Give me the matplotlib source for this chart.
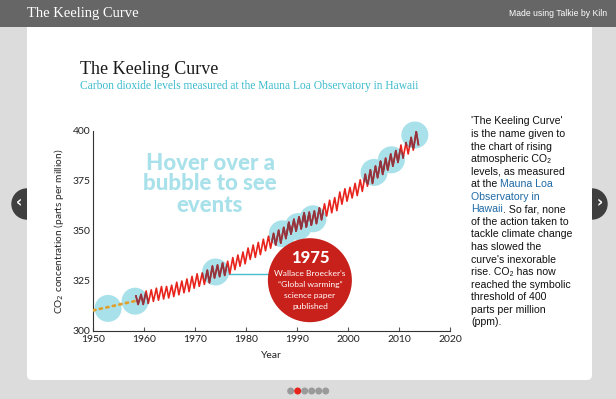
import matplotlib.pyplot as plt
from matplotlib.patches import Circle, Rectangle, FancyBboxPatch
from matplotlib.transforms import IdentityTransform, ScaledTranslation

# Mauna Loa CO2, yearly May peak and Sep/Oct trough (ppm)
years = list(range(1958, 2014))
may_peak = [317.5, 318.3, 320.0, 320.6, 321.4, 322.2, 322.3, 322.9, 324.4, 325.0,
            326.0, 327.3, 328.6, 329.0, 330.4, 332.5, 333.0, 334.0, 334.9, 336.7,
            338.0, 339.5, 341.5, 343.0, 344.3, 345.9, 347.4, 348.8, 350.4, 351.8,
            354.4, 355.9, 357.1, 359.1, 359.4, 360.0, 361.6, 363.6, 365.4, 366.7,
            369.5, 371.1, 371.8, 373.8, 375.6, 378.4, 380.6, 382.5, 384.9, 386.4,
            388.5, 390.2, 393.0, 394.2, 396.8, 399.8]
oct_trough = [313.3, 313.3, 313.8, 314.8, 315.4, 316.0, 316.5, 317.2, 318.1, 319.1,
              319.7, 321.4, 322.3, 323.3, 324.1, 326.5, 327.2, 327.8, 328.6, 330.7,
              332.4, 333.6, 335.8, 336.8, 338.2, 340.1, 341.4, 342.9, 343.9, 346.2,
              348.5, 349.9, 351.0, 352.0, 352.9, 353.7, 355.6, 357.5, 359.1, 360.2,
              363.4, 364.9, 366.5, 367.7, 369.8, 372.4, 373.8, 376.6, 378.3, 380.5,
              382.4, 384.3, 386.5, 388.5, 390.4, 393.2]

# estimate before the measurements
pre_years = [1950, 1958.2]
pre_ppm = [310.3, 315.0]

# event bubbles
bubble_year = [1952.9, 1958.2, 1974.0, 1987.1, 1990.2, 1993.1, 2005.1, 2008.5, 2013.1]
bubble_ppm = [311.3, 314.9, 329.5, 348.6, 352.2, 356.1, 379.3, 385.6, 398.0]

event_title = "1975"
event_lines = ["Wallace Broecker's", "\u201cGlobal warming\u201d", "science paper", "published"]
event_pos = (1992.5, 325.4)
event_bubble = 2

side_lines = ["'The Keeling Curve'", "is the name given to", "the chart of rising",
              "atmospheric CO\u2082", "levels, as measured", None, None, None,
              "of the action taken to", "tackle climate change", "has slowed the",
              "curve's inexorable", "rise. CO\u2082 has now", "reached the symbolic",
              "threshold of 400", "parts per million", "(ppm)."]

RED = '#e8231c'
DARKRED = '#8f3540'
BUBBLE = '#a8e1ea'
LINK = '#1f6aa5'
SANS = ['Liberation Sans', 'DejaVu Sans']
ROUND = ['Lato', 'DejaVu Sans']

fig = plt.figure(figsize=(6.16, 3.99), dpi=100)
fig.patch.set_facecolor('#dcdcdc')

# page furniture in pixel coordinates
bg = fig.add_axes([0, 0, 1, 1], zorder=0)
bg.set_xlim(0, 616)
bg.set_ylim(399, 0)
bg.axis('off')
for cx, ch in [(27, '\u2039'), (592, '\u203a')]:
    bg.add_patch(Circle((cx, 204), 15, color='#3f3f3f'))
    bg.text(cx + (-8 if cx < 300 else 8), 203, ch, color='white', fontsize=11,
            fontweight='bold', ha='center', va='center')
bg.add_patch(FancyBboxPatch((27, 20), 565, 360, boxstyle='round,pad=0,rounding_size=5',
                            fc='white', ec='none'))
bg.add_patch(Rectangle((0, 0), 616, 27, fc='#666666', ec='none'))
bg.text(27, 14, "The Keeling Curve", color='white', fontsize=10.5,
        family='Liberation Serif', va='center')
bg.text(607, 14, "Made using Talkie by Kiln", color='white', fontsize=6.2,
        family=SANS, ha='right', va='center')
for i in range(6):
    bg.add_patch(Circle((290.7 + i * 7, 391), 2.8, color=RED if i == 1 else '#9a9a9a'))

bg.text(80, 74, "The Keeling Curve", fontsize=13, family='Liberation Serif', color='#1a1a1a')
bg.text(80, 89, "Carbon dioxide levels measured at the Mauna Loa Observatory in Hawaii",
        fontsize=8.3, family='Liberation Serif', color='#3bbccd')

for i, line in enumerate(["Hover over a", "bubble to see", "events"]):
    bg.text(210, 163 + i * 21, line, fontsize=16, family=ROUND,
            fontweight='black', color=BUBBLE, ha='center', va='center')

# side text
for i, line in enumerate(side_lines):
    y = 124.5 + i * 12.55
    if line is not None:
        bg.text(471, y, line, fontsize=7.6, family=SANS, color='#111111')
y6 = 124.5 + 5 * 12.55
t = bg.text(471, y6, "at the", fontsize=7.6, family=SANS, color='#111111')
bg.annotate("Mauna Loa", xy=(1, y6), xycoords=(t, 'data'), xytext=(2.8, 0),
            textcoords='offset pixels', fontsize=7.6, family=SANS, color=LINK)
bg.text(471, y6 + 12.55, "Observatory in", fontsize=7.6, family=SANS, color=LINK)
t = bg.text(471, y6 + 2 * 12.55, "Hawaii", fontsize=7.6, family=SANS, color=LINK)
bg.annotate(". So far, none", xy=(1, y6 + 2 * 12.55), xycoords=(t, 'data'),
            fontsize=7.6, family=SANS, color='#111111')

# chart
ax = fig.add_axes([93.3 / 616, 68 / 399, 356.7 / 616, 200 / 399], zorder=1)
ax.patch.set_alpha(0)
ax.set_xlim(1950, 2020)
ax.set_ylim(300, 400)
for s in ['top', 'right']:
    ax.spines[s].set_visible(False)
for s in ['left', 'bottom']:
    ax.spines[s].set_color('#333333')
    ax.spines[s].set_linewidth(0.8)
ax.set_xticks(range(1950, 2021, 10))
ax.set_yticks(range(300, 401, 25))
ax.tick_params(axis='x', direction='in', length=3, color='#555555', labelsize=7.5, pad=3)
ax.tick_params(axis='y', length=0, labelsize=7.5, pad=2)
for lab in ax.get_xticklabels() + ax.get_yticklabels():
    lab.set_family(ROUND)
    lab.set_color('#222222')
ax.set_xlabel("Year", fontsize=7.5, family=ROUND, color='#222222', labelpad=5)
ax.set_ylabel("CO$_2$ concentration (parts per million)", fontsize=7.3,
              family=ROUND, color='#222222', labelpad=5)


def px_circle(x, y, r, **kw):
    return Circle((0, 0), r, transform=IdentityTransform() + ScaledTranslation(x, y, ax.transData), **kw)


t_saw, v_saw = [], []
for yr, p, tr in zip(years, may_peak, oct_trough):
    t_saw += [yr + 4.5 / 12, yr + 9.5 / 12]
    v_saw += [p, tr]

ax.plot(pre_years, pre_ppm, ls=(0, (0.8, 1.6)), lw=2, color='#e0a030', dash_capstyle='round', zorder=3)

# connector to event
ax.plot([bubble_year[event_bubble], event_pos[0]], [bubble_ppm[event_bubble] - 1] * 2,
        color='#45bfd0', lw=1, zorder=1)

for bx, by in zip(bubble_year, bubble_ppm):
    ax.add_patch(px_circle(bx, by, 13.5, fc=BUBBLE, ec='none', zorder=2, clip_on=False))

ax.plot(t_saw, v_saw, color=RED, lw=1.2, zorder=3)
for bx, by in zip(bubble_year, bubble_ppm):
    ln, = ax.plot(t_saw, v_saw, color=DARKRED, lw=1.2, zorder=3.5)
    ln.set_clip_path(px_circle(bx, by, 13.5))

ax.add_patch(px_circle(event_pos[0], event_pos[1], 42, fc='#c8201a', ec='none', zorder=5, clip_on=False))
ax.annotate(event_title, xy=event_pos, xytext=(0, 22), textcoords='offset pixels',
            ha='center', va='center', color='white', fontsize=12, fontweight='black',
            family=ROUND, zorder=6, annotation_clip=False)
for i, line in enumerate(event_lines):
    ax.annotate(line, xy=event_pos, xytext=(0, 7 - i * 11), textcoords='offset pixels',
                ha='center', va='center', color='white', fontsize=6.1,
                family=ROUND, zorder=6, annotation_clip=False)

fig.savefig('out.png', dpi=100, facecolor=fig.get_facecolor())
